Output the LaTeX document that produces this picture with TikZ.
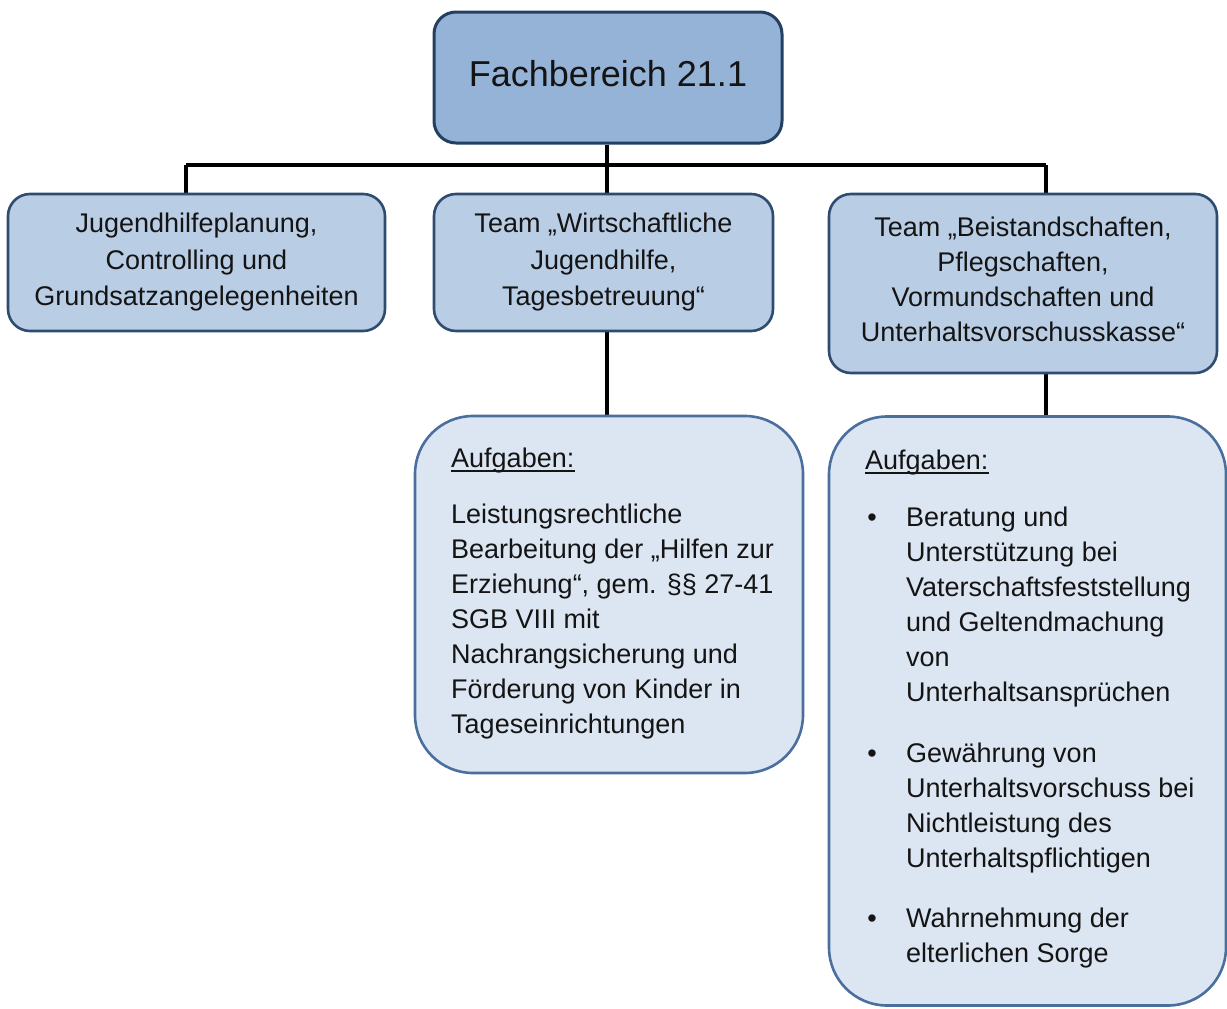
\documentclass[tikz,border=0pt]{standalone}
\usepackage{fontspec}
\setmainfont{Liberation Sans}
\usetikzlibrary{backgrounds}

\definecolor{headfill}{HTML}{95B3D7}
\definecolor{headline}{HTML}{243F60}
\definecolor{teamfill}{HTML}{B9CDE5}
\definecolor{teamline}{HTML}{2E4B70}
\definecolor{taskfill}{HTML}{DCE6F2}
\definecolor{taskline}{HTML}{4A6F9E}
\definecolor{ink}{HTML}{141414}

\begin{document}
\begin{tikzpicture}[x=1pt,y=-1pt,
  headbox/.style={draw=headline, fill=headfill, line width=3pt, rounded corners=22pt,
    inner sep=0pt, align=center, text=ink, font=\fontsize{36}{43}\selectfont},
  teambox/.style={draw=teamline, fill=teamfill, line width=2.6pt, rounded corners=22pt,
    inner sep=0pt, align=center, text=ink},
  taskbox/.style={draw=taskline, fill=taskfill, line width=2.6pt, rounded corners=58pt,
    inner sep=0pt},
  tasktext/.style={anchor=north west, inner sep=0pt, align=left, text=ink,
    font=\fontsize{27}{35}\selectfont},
  heading/.style={anchor=base west, inner sep=0pt, text=ink, font=\fontsize{27}{35}\selectfont},
  dot/.style={anchor=base, inner sep=0pt, text=ink, font=\fontsize{27}{35}\selectfont},
  link/.style={line width=4pt, black}
]
\useasboundingbox (0,0) rectangle (1227,1009);

% department head
\node[headbox, minimum width=348pt, minimum height=131pt] (top) at (608,77.5)
  {\raisebox{4pt}[\height][\depth]{Fachbereich 21.1}};

% teams
\node[teambox, minimum width=377pt, minimum height=137pt,
  font=\fontsize{27}{36.5}\selectfont] (left) at (196.5,262.5)
  {Jugendhilfeplanung,\\Controlling und\\Grundsatzangelegenheiten};
\node[teambox, minimum width=339pt, minimum height=137pt,
  font=\fontsize{27}{36.5}\selectfont] (mid) at (603.5,262.5)
  {Team „Wirtschaftliche\\Jugendhilfe,\\Tagesbetreuung“};
\node[teambox, minimum width=388pt, minimum height=179pt,
  font=\fontsize{27}{35}\selectfont] (right) at (1023,283.5)
  {Team „Beistandschaften,\\Pflegschaften,\\Vormundschaften und\\Unterhaltsvorschusskasse“\rule[-8pt]{0pt}{8pt}};

% task descriptions
\node[taskbox, minimum width=388pt, minimum height=357pt] (taskM) at (609,594.5) {};
\node[taskbox, minimum width=397pt, minimum height=589pt] (taskR) at (1027.5,711) {};

\node[heading] (aufM) at (451,467) {Aufgaben:};
\draw[ink, line width=1.3pt] ([yshift=-4pt]aufM.base west) -- ([yshift=-4pt]aufM.base east);
\node[tasktext] (txtM) at (451,503.5)
  {Leistungsrechtliche\\Bearbeitung der „Hilfen zur\\Erziehung“, gem. §§ 27-41\\SGB VIII mit\\Nachrangsicherung und\\Förderung von Kinder in\\Tageseinrichtungen};

\node[heading] (aufR) at (865,469) {Aufgaben:};
\draw[ink, line width=1.3pt] ([yshift=-4pt]aufR.base west) -- ([yshift=-4pt]aufR.base east);

\node[dot] (b1) at (872,526) {•};
\node[tasktext] (i1) at (906,506.3)
  {Beratung und\\Unterstützung bei\\Vaterschaftsfeststellung\\und Geltendmachung\\von\\Unterhaltsansprüchen};
\node[dot] (b2) at (872,762) {•};
\node[tasktext] (i2) at (906,742.3)
  {Gewährung von\\Unterhaltsvorschuss bei\\Nichtleistung des\\Unterhaltspflichtigen};
\node[dot] (b3) at (872,927) {•};
\node[tasktext] (i3) at (906,907.3)
  {Wahrnehmung der\\elterlichen Sorge};

% connectors
\coordinate (busL) at (186,165);
\coordinate (spine) at (607,165);
\coordinate (busR) at (1046,165);
\begin{scope}[on background layer]
  \draw[link] (spine |- top.south) -- (spine |- mid.north);
  \draw[link] (busL) -- (busR);
  \draw[link] (busL) -- (busL |- left.north);
  \draw[link] (busR) -- (busR |- right.north);
  \draw[link] (spine |- mid.south) -- (spine |- taskM.north);
  \draw[link] (busR |- right.south) -- (busR |- taskR.north);
\end{scope}
\end{tikzpicture}
\end{document}
